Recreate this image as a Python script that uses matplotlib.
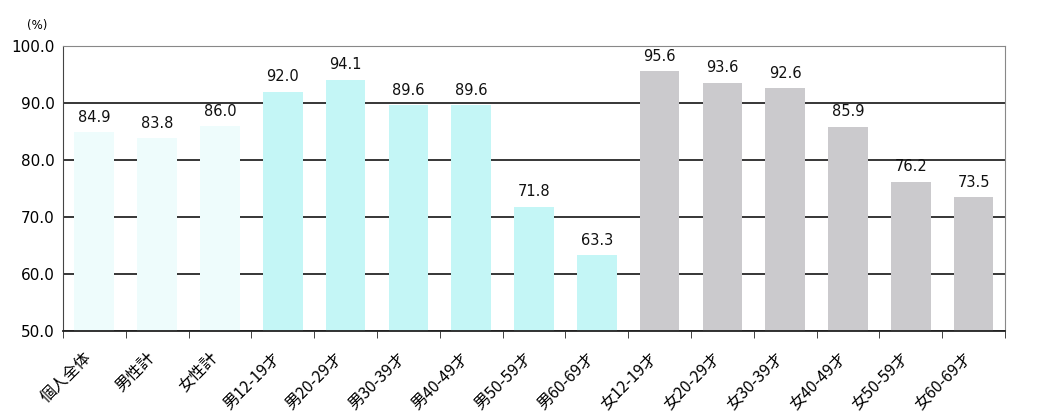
import matplotlib
matplotlib.use("Agg")
import matplotlib.pyplot as plt
import matplotlib.transforms as mtransforms
import numpy as np

plt.rcParams['font.family'] = ['Noto Sans CJK JP', 'DejaVu Sans']

categories = ["個人全体", "男性計", "女性計",
              "男12-19才", "男20-29才", "男30-39才", "男40-49才", "男50-59才", "男60-69才",
              "女12-19才", "女20-29才", "女30-39才", "女40-49才", "女50-59才", "女60-69才"]
values = [84.9, 83.8, 86.0,
          92.0, 94.1, 89.6, 89.6, 71.8, 63.3,
          95.6, 93.6, 92.6, 85.9, 76.2, 73.5]
colors = ["#eefcfc"] * 3 + ["#c4f6f6"] * 6 + ["#cbcacd"] * 6

fig = plt.figure(figsize=(10.48, 4.2), dpi=100)
ax = fig.add_axes([0.060, 0.212, 0.899, 0.678])

x = np.arange(len(categories))
ax.bar(x, [v - 50 for v in values], bottom=50, width=0.63, color=colors, zorder=2)

for xi, v in zip(x, values):
    ax.text(xi, v + 1.3, f"{v:.1f}", ha='center', va='bottom', fontsize=10.5,
            family='DejaVu Sans', color='#111111')

ax.set_xlim(-0.5, len(categories) - 0.5)
ax.set_ylim(50, 100)
ax.set_yticks([50, 60, 70, 80, 90, 100])
ax.set_yticklabels([f"{t:.1f}" for t in [50, 60, 70, 80, 90, 100]],
                   family='DejaVu Sans', fontsize=11)
ax.yaxis.grid(True, color='black', linewidth=1.1, zorder=1)
ax.set_axisbelow(True)

ax.set_xticks(x)
ax.set_xticklabels(categories, rotation=45, ha='right', rotation_mode='anchor', fontsize=11.5)
ax.tick_params(axis='x', which='major', length=0, pad=13)
shift = mtransforms.ScaledTranslation(-11 / 100, 0, fig.dpi_scale_trans)
for lbl in ax.get_xticklabels():
    lbl.set_transform(lbl.get_transform() + shift)
ax.set_xticks(np.arange(-0.5, len(categories) + 0.5, 1), minor=True)
ax.tick_params(axis='x', which='minor', length=5, direction='out', color='#222222')
ax.tick_params(axis='y', length=0, pad=6)

ax.spines['left'].set_color('#444444')
ax.spines['left'].set_linestyle((0, (2, 1)))
ax.spines['bottom'].set_color('#222222')
ax.spines['bottom'].set_linewidth(1.3)
ax.spines['top'].set_color('#888888')
ax.spines['right'].set_color('#888888')

fig.text(0.026, 0.925, "(%)", fontsize=8.5, family='DejaVu Sans', ha='left', va='bottom')

fig.savefig("out.png", dpi=100)
